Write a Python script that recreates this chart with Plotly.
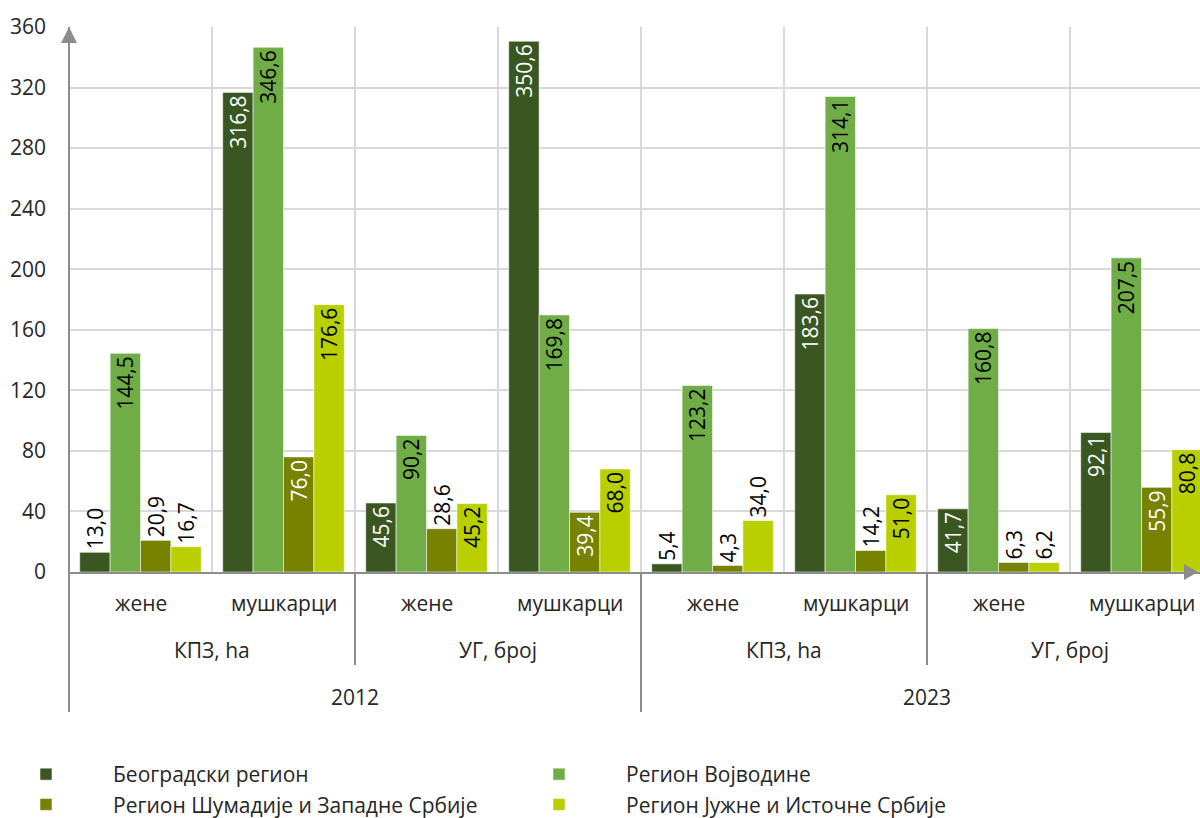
import plotly.graph_objects as go

# ---- data ----
genders = ["жене", "мушкарци", "жене", "мушкарци", "жене", "мушкарци", "жене", "мушкарци"]
measures = ["КПЗ, ha", "УГ, број", "КПЗ, ha", "УГ, број"]
years = ["2012", "2023"]

series_names = ["Београдски регион", "Регион Војводине",
                "Регион Шумадије и Западне Србије", "Регион Јужне и Источне Србије"]
beograd = [13.0, 316.8, 45.6, 350.6, 5.4, 183.6, 41.7, 92.1]
vojvodina = [144.5, 346.6, 90.2, 169.8, 123.2, 314.1, 160.8, 207.5]
sumadija = [20.9, 76.0, 28.6, 39.4, 4.3, 14.2, 6.3, 55.9]
juzna = [16.7, 176.6, 45.2, 68.0, 34.0, 51.0, 6.2, 80.8]

y_ticks = [0, 40, 80, 120, 160, 200, 240, 280, 320, 360]

# ---- style ----
colors = ["#3A5722", "#70AD47", "#768200", "#B9CF00"]
inside_font_colors = ["white", "black", "white", "black"]
FONT = "Open Sans"
FS = 21
GRID = "#D9D9D9"
AXIS = "#8C8C8C"
TXT = "#262626"

x = list(range(len(genders)))
fig = go.Figure()
for name, vals, col, ic in zip(series_names, [beograd, vojvodina, sumadija, juzna],
                               colors, inside_font_colors):
    fig.add_trace(go.Bar(
        x=x, y=vals, name=name,
        marker=dict(color=col, line=dict(color="rgba(255,255,255,0.55)", width=1)),
        texttemplate="%{y:.1f}",
        textposition=["inside" if v >= 35 else "outside" for v in vals],
        insidetextanchor="end",
        textangle=-90,
        constraintext="none",
        insidetextfont=dict(color=ic, size=FS, family=FONT),
        outsidetextfont=dict(color="black", size=FS, family=FONT),
        cliponaxis=False,
    ))

L, T, B = 69, 27, 246
W, H = 1200, 818
plot_h = H - T - B
plot_w = W - L
group_px = 143
x_end = -0.5 + plot_w / group_px

def py(px_below):
    return -px_below / plot_h

ITEMW = 124
fig.update_layout(
    width=W, height=H,
    margin=dict(l=L, r=0, t=T, b=B, autoexpand=False),
    paper_bgcolor="white", plot_bgcolor="white",
    barmode="group", bargap=0.15, bargroupgap=0,
    separators=", ",
    font=dict(family=FONT, size=FS, color=TXT),
    showlegend=True,
    legend=dict(orientation="h", x=-90 / plot_w, xanchor="left", y=py(182), yanchor="top",
                entrywidth=508 - ITEMW - 10, entrywidthmode="pixels", itemwidth=ITEMW,
                font=dict(size=FS, color=TXT, family=FONT), traceorder="normal"),
    xaxis=dict(range=[-0.5, x_end], tickmode="array",
               tickvals=[i + 0.5 for i in range(len(genders))],
               showticklabels=False, showgrid=True, gridcolor=GRID, gridwidth=1.5,
               zeroline=False, showline=True, linecolor=AXIS, linewidth=2, ticks=""),
    yaxis=dict(range=[0, 360], tickmode="array", tickvals=y_ticks,
               showgrid=True, gridcolor=GRID, gridwidth=1.5, zeroline=False,
               showline=False, ticks="", ticklabelstandoff=22,
               tickfont=dict(size=FS, color=TXT, family=FONT)),
)

shapes = []
# y axis line extended below plot
shapes.append(dict(type="line", xref="paper", yref="paper", x0=0, x1=0, y0=py(140), y1=1,
                   line=dict(color=AXIS, width=2)))
# group separators below axis
for xs, depth in [(1.5, 93), (3.5, 140), (5.5, 93)]:
    shapes.append(dict(type="line", xref="x", yref="paper", x0=xs, x1=xs, y0=py(depth), y1=0,
                       line=dict(color=AXIS, width=2)))
# arrows
shapes.append(dict(type="path", xref="paper", yref="paper", xsizemode="pixel", ysizemode="pixel",
                   xanchor=0, yanchor=1, path="M0,0 L-8,-16 L8,-16 Z",
                   fillcolor=AXIS, line=dict(width=0)))
shapes.append(dict(type="path", xref="paper", yref="paper", xsizemode="pixel", ysizemode="pixel",
                   xanchor=1, yanchor=0, path="M-2,0 L-16,8 L-16,-8 Z",
                   fillcolor=AXIS, line=dict(width=0)))
fig.update_layout(shapes=shapes)

ann = []
for i, g in enumerate(genders):
    ann.append(dict(x=i, y=py(31), xref="x", yref="paper", text=g, showarrow=False,
                    font=dict(size=FS, color=TXT, family=FONT), yanchor="middle"))
for j, m in enumerate(measures):
    ann.append(dict(x=2 * j + 0.5, y=py(78), xref="x", yref="paper", text=m, showarrow=False,
                    font=dict(size=FS, color=TXT, family=FONT), yanchor="middle"))
for k, yr in enumerate(years):
    ann.append(dict(x=4 * k + 1.5, y=py(125), xref="x", yref="paper", text=yr, showarrow=False,
                    font=dict(size=FS, color=TXT, family=FONT), yanchor="middle"))
fig.update_layout(annotations=ann)

fig.write_html(
    "out.html",
    config={"displayModeBar": False},
    post_script="document.body.style.margin='0';document.body.style.overflow='hidden';",
)
